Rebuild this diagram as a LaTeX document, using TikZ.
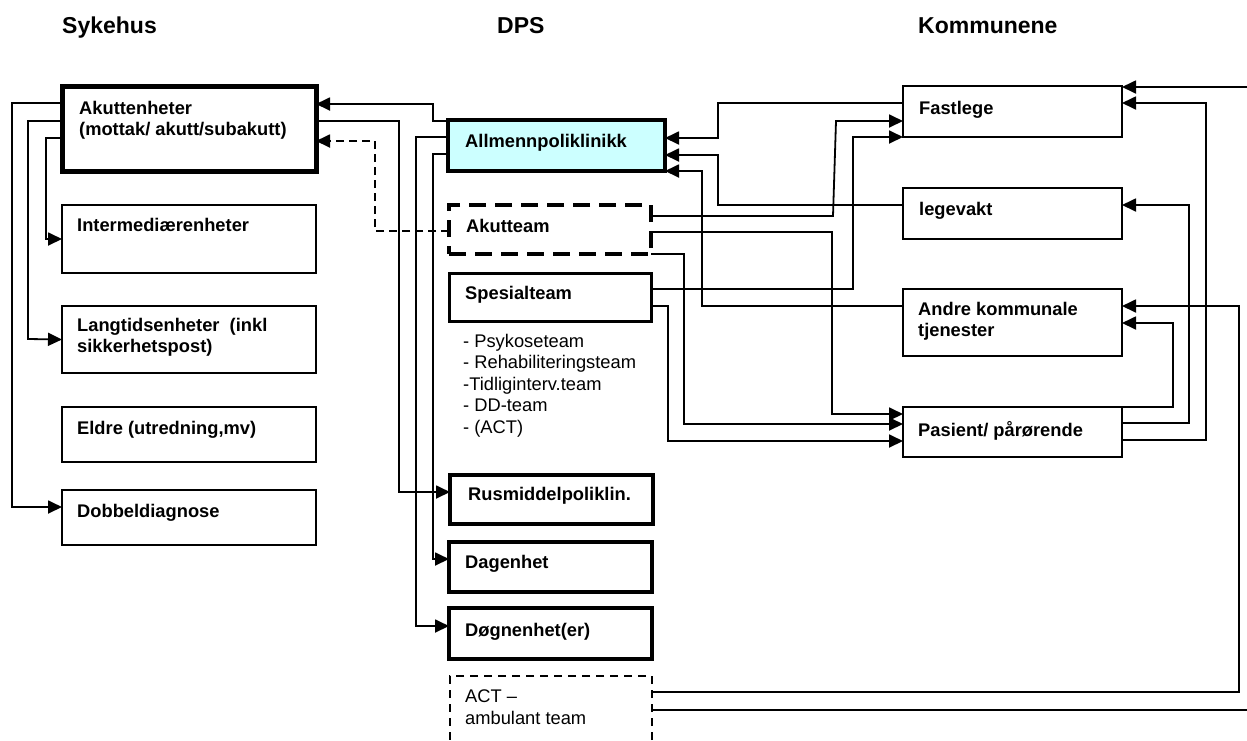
\documentclass[tikz,border=0pt]{standalone}
\usepackage{fontspec}
\setmainfont{Liberation Sans}
\usetikzlibrary{arrows.meta}
\definecolor{polycyan}{HTML}{CCFFFF}
\begin{document}
\begin{tikzpicture}[x=1pt,y=-1pt,
  box/.style={draw=black, line width=1.8pt, anchor=north west, inner sep=0pt, outer sep=0pt},
  conn/.style={line width=1.8pt},
  arr/.style={conn,-{Triangle[length=14pt,width=13pt]}},
  dconn/.style={arr, dash pattern=on 8pt off 5pt},
  txt/.style={anchor=north west, inner sep=0pt, align=left, font=\fontsize{18.3}{21.4}\selectfont\bfseries},
  ltxt/.style={anchor=north west, inner sep=0pt, align=left, font=\fontsize{18.3}{21.4}\selectfont},
  ttl/.style={anchor=north west, inner sep=0pt, font=\fontsize{23}{27}\selectfont\bfseries}]
\useasboundingbox (0,0) rectangle (1247,740);
\clip (0,0) rectangle (1247,740);

% boxes
\node[box, line width=5pt, minimum width=254pt, minimum height=85pt] (akutt) at (62,86) {};
\node[box, minimum width=254pt, minimum height=68pt] (interm) at (62,205) {};
\node[box, minimum width=254pt, minimum height=67pt] (langtid) at (62,306) {};
\node[box, minimum width=254pt, minimum height=55pt] (eldre) at (62,407) {};
\node[box, minimum width=254pt, minimum height=55pt] (dobbel) at (62,490) {};
\node[box, fill=polycyan, line width=3.5pt, minimum width=217pt, minimum height=51pt] (allmenn) at (448,120) {};
\node[box, line width=4pt, dash pattern=on 17pt off 9pt, minimum width=202pt, minimum height=49pt] (akutteam) at (449,205) {};
\node[box, line width=3pt, minimum width=202pt, minimum height=48pt] (spesial) at (449,273) {};
\node[box, line width=4pt, minimum width=203pt, minimum height=49pt] (rus) at (450,475) {};
\node[box, line width=4pt, minimum width=203pt, minimum height=50pt] (dag) at (449,542) {};
\node[box, line width=4pt, minimum width=203pt, minimum height=51pt] (dogn) at (449,608) {};
\node[box, line width=2pt, dash pattern=on 8pt off 6pt, minimum width=202pt, minimum height=100pt] (act) at (450,676) {};
\node[box, minimum width=219pt, minimum height=51pt] (fastlege) at (903,86) {};
\node[box, minimum width=219pt, minimum height=51pt] (legevakt) at (903,188) {};
\node[box, minimum width=219pt, minimum height=67pt] (andre) at (903,289) {};
\node[box, minimum width=219pt, minimum height=50pt] (pasient) at (903,407) {};

% connectors, hospital side
\draw[arr] ([yshift=-1]allmenn.north west) -- (433,121) -- (433,104) -- ([yshift=-18]akutt.north east);
\draw[arr] ([yshift=-35]akutt.north east) -- (399,121) -- (399,492) -- ([yshift=-17]rus.north west);
\draw[dconn] ([yshift=-26]akutteam.north west) -- (375,231) -- (375,141) -- ([yshift=-55]akutt.north east);
\draw[arr] ([yshift=-17]allmenn.north west) -- (416,137) -- (416,626) -- ([yshift=-18]dogn.north west);
\draw[arr] ([yshift=-34]allmenn.north west) -- (433,154) -- (433,559) -- ([yshift=-17]dag.north west);
\draw[arr] ([yshift=-17]akutt.north west) -- (12,103) -- (12,507) -- ([yshift=-17]dobbel.north west);
\draw[arr] ([yshift=-35]akutt.north west) -- (28,121) -- (28,339) -- (langtid.west);
\draw[arr] ([yshift=-52]akutt.north west) -- (46,138) -- (46,239) -- (interm.west);

% connectors, municipality side
\draw[arr] ([yshift=-17]fastlege.north west) -- (718,103) -- (718,138) -- ([yshift=-18]allmenn.north east);
\draw[arr] ([yshift=-17]legevakt.north west) -- (718,205) -- (718,155) -- ([yshift=-35]allmenn.north east);
\draw[arr] ([yshift=-17]andre.north west) -- (702,306) -- (702,171) -- (allmenn.south east);
\draw[arr] ([yshift=-11]akutteam.north east) -- (833,216) -- (836,121) -- ([yshift=-35]fastlege.north west);
\draw[arr] ([yshift=-27]akutteam.north east) -- (832,232) -- (832,414) -- ([yshift=-7]pasient.north west);
\draw[arr] (akutteam.south east) -- (684,254) -- (684,424) -- ([yshift=-17]pasient.north west);
\draw[arr] ([yshift=-16]spesial.north east) -- (853,289) -- (853,137) -- (fastlege.south west);
\draw[arr] ([yshift=-33]spesial.north east) -- (668,306) -- (668,441) -- ([yshift=-34]pasient.north west);
\draw[arr] (pasient.north east) -- (1173,407) -- (1173,323) -- ([yshift=-34]andre.north east);
\draw[arr] ([yshift=-16]pasient.north east) -- (1189,423) -- (1189,205) -- ([yshift=-17]legevakt.north east);
\draw[arr] ([yshift=-33]pasient.north east) -- (1206,440) -- (1206,103) -- ([yshift=-17]fastlege.north east);
\draw[arr] ([yshift=-16]act.north east) -- (1239,692) -- (1239,306) -- ([yshift=-17]andre.north east);
\coordinate (offA) at (1250,710);
\coordinate (offB) at (1250,87);
\draw[conn] ([yshift=-34]act.north east) -- (offA);
\draw[arr] (offB) -- ([yshift=-1]fastlege.north east);

% titles
\node[ttl] (hs) at (62,17) {Sykehus};
\node[ttl] (hd) at (497,17) {DPS};
\node[ttl] (hk) at (918,17) {Kommunene};

% texts
\node[txt] (takutt) at (79,101) {Akuttenheter\\(mottak/ akutt/subakutt)};
\node[txt] (tinterm) at (77,218) {Intermediærenheter};
\node[txt] (tlang) at (77,318) {Langtidsenheter\ \ (inkl\\sikkerhetspost)};
\node[txt] (teldre) at (77,421) {Eldre (utredning,mv)};
\node[txt] (tdobbel) at (77,504) {Dobbeldiagnose};
\node[txt] (tallm) at (465,134) {Allmennpoliklinikk};
\node[txt] (takt) at (466,219) {Akutteam};
\node[txt] (tspes) at (465,286) {Spesialteam};
\node[ltxt] (tlist) at (463,334) {- Psykoseteam\\- Rehabiliteringsteam\\-Tidliginterv.team\\- DD-team\\- (ACT)};
\node[txt] (trus) at (468,487) {Rusmiddelpoliklin.};
\node[txt] (tdag) at (465,555) {Dagenhet};
\node[txt] (tdogn) at (465,623) {Døgnenhet(er)};
\node[ltxt] (tact) at (465,690) {ACT –\\ambulant team};
\node[txt] (tfast) at (919,101) {Fastlege};
\node[txt] (tlege) at (919,202) {legevakt};
\node[txt] (tandre) at (918,302) {Andre kommunale\\tjenester};
\node[txt] (tpas) at (918,421) {Pasient/ pårørende};
\end{tikzpicture}
\end{document}
